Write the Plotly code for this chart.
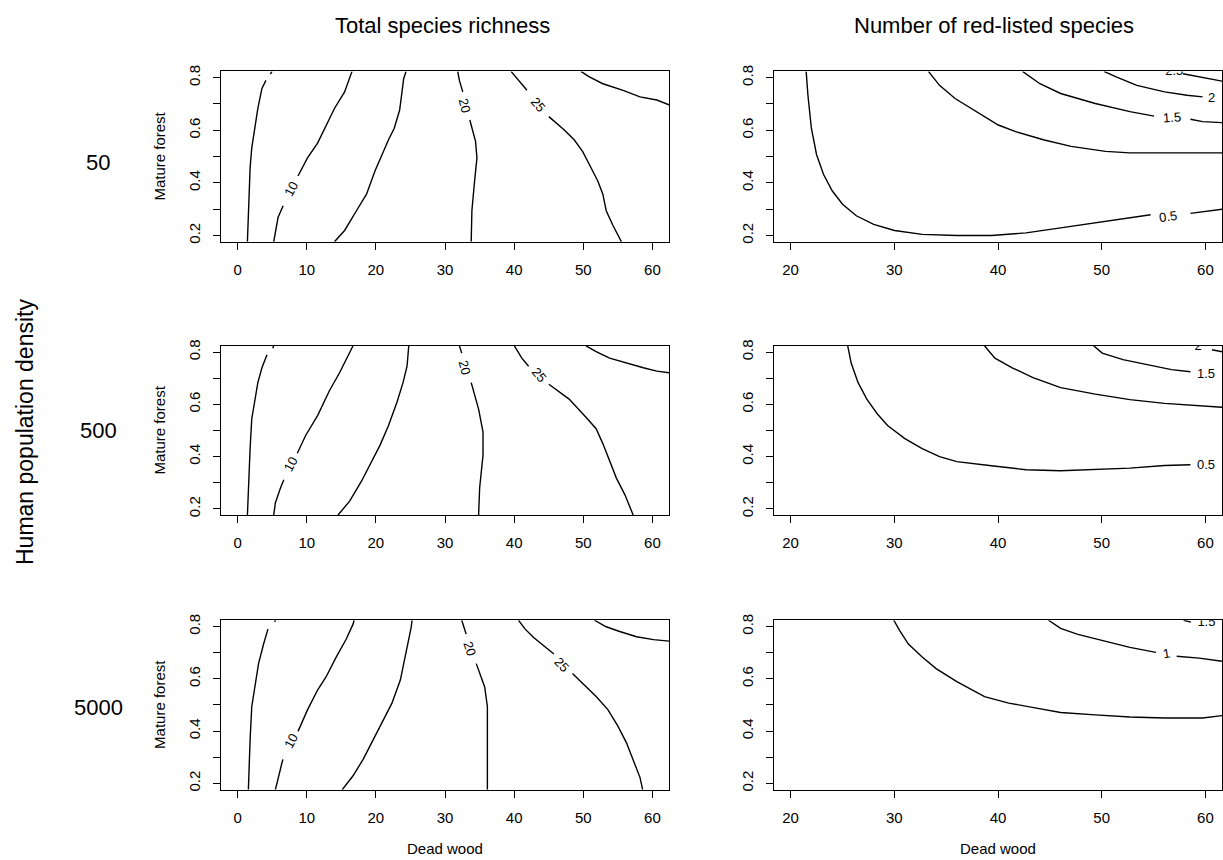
import plotly.graph_objects as go

W, H = 1223, 860
FONT = "Liberation Sans, Arial, Helvetica, sans-serif"

# ---------------- text / ticks ----------------
COL_TITLES = ["Total species richness", "Number of red-listed species"]
ROW_LABELS = ["50", "500", "5000"]
ROW_TITLE = "Human population density"
X_TITLE = "Dead wood"
Y_TITLE = "Mature forest"

LEFT_X_TICKS = [0, 10, 20, 30, 40, 50, 60]
RIGHT_X_TICKS = [20, 30, 40, 50, 60]
Y_TICKS = [0.2, 0.3, 0.4, 0.5, 0.6, 0.7, 0.8]
Y_TICK_TEXT = ["0.2", "", "0.4", "", "0.6", "", "0.8"]
LEFT_X_RANGE = [-2.4, 62.4]
RIGHT_X_RANGE = [18.4, 61.6]
Y_RANGE = [0.176, 0.824]

# ---------------- contour lines, None = label gap ----------------
# Row 1 (density 50), total species richness
R1L_5_X = [1.42, 1.56, 1.81, 2.05, 2.93, 3.52, 4.10, None, 4.74, 4.98]
R1L_5_Y = [0.176, 0.294, 0.457, 0.533, 0.683, 0.759, 0.790, None, 0.814, 0.824]
R1L_10_X = [5.22, 5.47, 5.86, 6.59, None, 8.74, 10.11, 11.57, 12.79, 14.01, 15.48, 16.55]
R1L_10_Y = [0.176, 0.219, 0.269, 0.313, None, 0.426, 0.495, 0.551, 0.614, 0.683, 0.746, 0.824]
R1L_15_X = [14.01, 15.48, 17.19, 18.65, 19.87, 20.85, 21.83, 22.66, 23.44, 23.78, 24.02, 24.37]
R1L_15_Y = [0.176, 0.219, 0.294, 0.357, 0.445, 0.507, 0.564, 0.608, 0.677, 0.746, 0.796, 0.824]
R1L_20_X = [33.79, 33.89, 34.28, 34.62, 34.42, 34.03, 33.59, None, 32.57, 32.08, 31.84]
R1L_20_Y = [0.176, 0.294, 0.407, 0.495, 0.558, 0.602, 0.639, None, 0.746, 0.790, 0.824]
R1L_25_X = [39.55, 40.63, 41.85, None, 45.02, 47.22, 48.68, 49.90, 50.88, 52.10, 52.83, 53.32, 54.30, 55.52]
R1L_25_Y = [0.824, 0.790, 0.752, None, 0.652, 0.602, 0.564, 0.520, 0.470, 0.407, 0.357, 0.294, 0.238, 0.176]
R1L_30_X = [49.66, 50.88, 52.83, 55.76, 58.20, 60.64, 62.4]
R1L_30_Y = [0.824, 0.803, 0.777, 0.752, 0.727, 0.715, 0.697]
R1L_LABELS = [("10", 7.67, 0.376, -62), ("20", 32.81, 0.693, 75), ("25", 43.46, 0.698, 50)]

# Row 1, red-listed species
R1R_05_X = [21.50, 21.67, 22.00, 22.50, 23.17, 24.01, 25.01, 26.34, 28.01, 30.02, 32.69, 36.03,
            39.37, 42.70, 46.04, 49.38, 52.72, 54.72, None, 58.56, 61.6]
R1R_05_Y = [0.824, 0.734, 0.609, 0.508, 0.433, 0.370, 0.319, 0.275, 0.242, 0.219, 0.204, 0.200,
            0.200, 0.210, 0.229, 0.248, 0.267, 0.279, None, 0.284, 0.300]
R1R_1_X = [33.29, 34.36, 35.86, 37.70, 40.03, 41.70, 44.37, 47.05, 50.38, 52.72, 56.06, 61.6]
R1R_1_Y = [0.824, 0.771, 0.721, 0.677, 0.620, 0.595, 0.564, 0.539, 0.520, 0.514, 0.514, 0.514]
R1R_15_X = [42.37, 44.04, 46.04, 49.38, 52.72, 55.06, None, 58.56, 59.73, 61.6]
R1R_15_Y = [0.824, 0.777, 0.740, 0.702, 0.671, 0.654, None, 0.642, 0.633, 0.629]
R1R_2_X = [50.22, 51.39, 53.39, 56.06, 58.23, 59.73]
R1R_2_Y = [0.824, 0.803, 0.771, 0.746, 0.733, 0.727]
R1R_25_X = [57.84, 61.2, 61.6]
R1R_25_Y = [0.815, 0.790, 0.787]
R1R_LABELS = [("0.5", 56.39, 0.273, -8), ("1.5", 56.73, 0.648, -4), ("2", 60.6, 0.723, 0)]
R1R_CLIPPED = [("2.5", 57.0, 0.824)]

# Row 2 (density 500), total species richness
R2L_5_X = [1.42, 1.56, 1.81, 2.05, 2.93, 3.52, 4.25, None, 5.08, 5.22]
R2L_5_Y = [0.176, 0.280, 0.431, 0.545, 0.683, 0.740, 0.790, None, 0.815, 0.824]
R2L_10_X = [5.22, 5.47, 6.20, 6.69, None, 8.64, 9.86, 11.57, 13.28, 14.75, 15.72, 16.70]
R2L_10_Y = [0.176, 0.224, 0.280, 0.312, None, 0.413, 0.482, 0.557, 0.652, 0.721, 0.771, 0.824]
R2L_15_X = [14.50, 16.21, 17.92, 19.14, 20.61, 21.83, 23.05, 23.93, 24.51, 24.76]
R2L_15_Y = [0.176, 0.230, 0.306, 0.369, 0.444, 0.519, 0.608, 0.683, 0.746, 0.824]
R2L_20_X = [34.86, 35.01, 35.50, 35.50, 34.86, 34.28, 33.79, None, 32.42, 32.08]
R2L_20_Y = [0.176, 0.280, 0.406, 0.494, 0.582, 0.633, 0.683, None, 0.796, 0.824]
R2L_25_X = [40.04, 41.11, 42.09, None, 45.02, 47.95, 50.39, 51.86, 52.83, 53.81, 54.79, 56.01, 57.23]
R2L_25_Y = [0.824, 0.777, 0.746, None, 0.677, 0.620, 0.551, 0.507, 0.450, 0.381, 0.318, 0.255, 0.176]
R2L_30_X = [50.39, 51.86, 53.81, 56.25, 58.69, 60.64, 62.4]
R2L_30_Y = [0.824, 0.802, 0.777, 0.758, 0.740, 0.727, 0.721]
R2L_LABELS = [("10", 7.67, 0.369, -62), ("20", 32.81, 0.740, 75), ("25", 43.55, 0.714, 50)]

# Row 2, red-listed species
R2R_05_X = [25.51, 25.84, 26.51, 27.35, 28.35, 29.35, 31.02, 32.69, 34.36, 36.03, 39.37, 42.70,
            46.04, 49.38, 52.72, 56.06, 58.56]
R2R_05_Y = [0.824, 0.758, 0.683, 0.620, 0.564, 0.519, 0.469, 0.431, 0.400, 0.381, 0.365, 0.350,
            0.346, 0.350, 0.356, 0.366, 0.369]
R2R_1_X = [38.70, 39.70, 41.37, 43.37, 46.04, 49.38, 52.72, 56.06, 61.6]
R2R_1_Y = [0.824, 0.777, 0.740, 0.702, 0.664, 0.639, 0.618, 0.604, 0.589]
R2R_15_X = [49.22, 50.05, 52.05, 54.39, 56.73, 58.56]
R2R_15_Y = [0.824, 0.796, 0.771, 0.752, 0.733, 0.725]
R2R_2_X = [60.64, 61.6]
R2R_2_Y = [0.809, 0.801]
R2R_LABELS = [("0.5", 60.1, 0.369, 0), ("1.5", 60.1, 0.718, 0)]
R2R_CLIPPED = [("2", 59.3, 0.822)]

# Row 3 (density 5000), total species richness
R3L_5_X = [1.56, 1.66, 1.81, 2.05, 2.54, 3.03, 3.76, 4.39, None, 5.37, 5.47]
R3L_5_Y = [0.176, 0.267, 0.368, 0.494, 0.582, 0.658, 0.733, 0.790, None, 0.817, 0.824]
R3L_10_X = [5.47, 5.86, 6.54, None, 8.74, 10.11, 11.57, 12.79, 14.26, 15.72, 16.70, 16.85]
R3L_10_Y = [0.176, 0.223, 0.292, None, 0.399, 0.481, 0.557, 0.607, 0.683, 0.752, 0.809, 0.824]
R3L_15_X = [15.14, 16.70, 18.16, 19.63, 21.09, 22.31, 23.54, 24.27, 24.76, 25.10, 25.24]
R3L_15_Y = [0.176, 0.229, 0.292, 0.368, 0.443, 0.506, 0.595, 0.683, 0.746, 0.796, 0.824]
R3L_20_X = [36.13, 36.13, 36.13, 35.74, 35.01, 34.52, None, 33.06, 32.57, 32.42]
R3L_20_Y = [0.176, 0.368, 0.494, 0.569, 0.620, 0.658, None, 0.771, 0.815, 0.824]
R3L_25_X = [40.63, 41.60, 42.82, 44.29, 45.75, None, 48.44, 50.39, 51.86, 53.56, 55.03, 56.25,
            57.23, 58.20, 58.59]
R3L_25_Y = [0.824, 0.790, 0.758, 0.727, 0.695, None, 0.620, 0.569, 0.532, 0.482, 0.418, 0.355,
            0.292, 0.223, 0.176]
R3L_30_X = [51.61, 53.32, 55.27, 57.71, 60.16, 62.4]
R3L_30_Y = [0.824, 0.799, 0.781, 0.761, 0.750, 0.744]
R3L_LABELS = [("10", 7.67, 0.361, -62), ("20", 33.54, 0.714, 72), ("25", 46.88, 0.656, 47)]

# Row 3, red-listed species
R3R_05_X = [29.95, 30.52, 31.36, 32.69, 34.03, 36.03, 38.70, 41.04, 43.71, 46.04, 49.38, 52.72,
            56.06, 59.73, 61.6]
R3R_05_Y = [0.824, 0.784, 0.733, 0.683, 0.639, 0.589, 0.532, 0.507, 0.488, 0.471, 0.462, 0.454,
            0.450, 0.450, 0.459]
R3R_1_X = [44.87, 46.04, 47.70, 49.38, 51.39, 52.72, 55.23, None, 57.23, 59.40, 61.6]
R3R_1_Y = [0.824, 0.793, 0.770, 0.754, 0.733, 0.720, 0.701, None, 0.686, 0.679, 0.667]
R3R_15_X = [57.9, 58.6]
R3R_15_Y = [0.824, 0.817]
R3R_LABELS = [("1", 56.23, 0.695, -10)]
R3R_CLIPPED = [("1.5", 60.1, 0.815)]

# ---------------- layout geometry (pixels) ----------------
COL_PX = [(221, 669), (774, 1222)]
ROW_PX = [(66, 238), (343, 514), (620, 791)]

PANELS = [
    (0, 0, [(R1L_5_X, R1L_5_Y), (R1L_10_X, R1L_10_Y), (R1L_15_X, R1L_15_Y), (R1L_20_X, R1L_20_Y),
            (R1L_25_X, R1L_25_Y), (R1L_30_X, R1L_30_Y)], R1L_LABELS, []),
    (0, 1, [(R1R_05_X, R1R_05_Y), (R1R_1_X, R1R_1_Y), (R1R_15_X, R1R_15_Y), (R1R_2_X, R1R_2_Y),
            (R1R_25_X, R1R_25_Y)], R1R_LABELS, R1R_CLIPPED),
    (1, 0, [(R2L_5_X, R2L_5_Y), (R2L_10_X, R2L_10_Y), (R2L_15_X, R2L_15_Y), (R2L_20_X, R2L_20_Y),
            (R2L_25_X, R2L_25_Y), (R2L_30_X, R2L_30_Y)], R2L_LABELS, []),
    (1, 1, [(R2R_05_X, R2R_05_Y), (R2R_1_X, R2R_1_Y), (R2R_15_X, R2R_15_Y), (R2R_2_X, R2R_2_Y)],
     R2R_LABELS, R2R_CLIPPED),
    (2, 0, [(R3L_5_X, R3L_5_Y), (R3L_10_X, R3L_10_Y), (R3L_15_X, R3L_15_Y), (R3L_20_X, R3L_20_Y),
            (R3L_25_X, R3L_25_Y), (R3L_30_X, R3L_30_Y)], R3L_LABELS, []),
    (2, 1, [(R3R_05_X, R3R_05_Y), (R3R_1_X, R3R_1_Y), (R3R_15_X, R3R_15_Y)], R3R_LABELS, R3R_CLIPPED),
]


def px_x(p):
    return p / W


def px_y(p):
    return 1 - p / H


fig = go.Figure()
layout = dict(
    width=W, height=H, margin=dict(l=0, r=0, t=0, b=0),
    paper_bgcolor="white", plot_bgcolor="white", showlegend=False,
    font=dict(family=FONT, color="black"),
)
annotations = []

for i, (r, c, lines, labels, clipped) in enumerate(PANELS):
    n = i + 1
    xa = "x" if n == 1 else f"x{n}"
    ya = "y" if n == 1 else f"y{n}"
    x0, x1 = COL_PX[c]
    t, b = ROW_PX[r]
    common = dict(showline=True, mirror=True, linecolor="black", linewidth=1,
                  ticks="outside", ticklen=7, tickwidth=1, tickcolor="black",
                  showgrid=False, zeroline=False, tickfont=dict(size=15, family=FONT, color="black"),
                  ticklabelstandoff=7, fixedrange=True)
    layout["xaxis" if n == 1 else f"xaxis{n}"] = dict(
        domain=[px_x(x0), px_x(x1)], anchor=ya,
        range=LEFT_X_RANGE if c == 0 else RIGHT_X_RANGE,
        tickvals=LEFT_X_TICKS if c == 0 else RIGHT_X_TICKS, **common)
    layout["yaxis" if n == 1 else f"yaxis{n}"] = dict(
        domain=[px_y(b), px_y(t)], anchor=xa, range=Y_RANGE,
        tickvals=Y_TICKS, ticktext=Y_TICK_TEXT, tickangle=-90, **common)

    for lx, ly in lines:
        fig.add_trace(go.Scatter(x=lx, y=ly, mode="lines", xaxis=xa, yaxis=ya,
                                 line=dict(color="black", width=1.4), hoverinfo="skip",
                                 connectgaps=False))
    for txt, lx, ly, ang in labels:
        annotations.append(dict(x=lx, y=ly, xref=xa, yref=ya, text=txt, showarrow=False,
                                textangle=ang, font=dict(size=13, family=FONT, color="black"),
                                xanchor="center", yanchor="middle"))
    if clipped:
        fig.add_trace(go.Scatter(x=[v[1] for v in clipped], y=[v[2] for v in clipped],
                                 text=[v[0] for v in clipped], mode="text", xaxis=xa, yaxis=ya,
                                 textfont=dict(size=13, family=FONT, color="black"),
                                 cliponaxis=True, hoverinfo="skip"))

    if c == 0:
        annotations.append(dict(x=px_x(160), y=px_y((t + b) / 2), xref="paper", yref="paper",
                                text=Y_TITLE, showarrow=False, textangle=-90,
                                font=dict(size=15, family=FONT, color="black"),
                                xanchor="center", yanchor="middle"))
    if r == 2:
        annotations.append(dict(x=px_x((x0 + x1) / 2), y=px_y(850), xref="paper", yref="paper",
                                text=X_TITLE, showarrow=False,
                                font=dict(size=15, family=FONT, color="black"),
                                xanchor="center", yanchor="middle"))

for c, title in enumerate(COL_TITLES):
    cx = [442, 994][c]
    annotations.append(dict(x=px_x(cx), y=px_y(20), xref="paper", yref="paper", text=title,
                            showarrow=False, font=dict(size=22, family=FONT, color="black"),
                            xanchor="center", yanchor="middle"))

for r, lab in enumerate(ROW_LABELS):
    cy = [158, 428, 708][r]
    annotations.append(dict(x=px_x(98), y=px_y(cy), xref="paper", yref="paper", text=lab,
                            showarrow=False, font=dict(size=22, family=FONT, color="black"),
                            xanchor="center", yanchor="middle"))

annotations.append(dict(x=px_x(25), y=px_y(430), xref="paper", yref="paper", text=ROW_TITLE,
                        showarrow=False, textangle=-90,
                        font=dict(size=23, family=FONT, color="black"),
                        xanchor="center", yanchor="middle"))

layout["annotations"] = annotations
fig.update_layout(**layout)
fig.write_html("out.html", config={"displayModeBar": False},
               post_script="document.body.style.margin='0px';document.body.style.padding='0px';")
